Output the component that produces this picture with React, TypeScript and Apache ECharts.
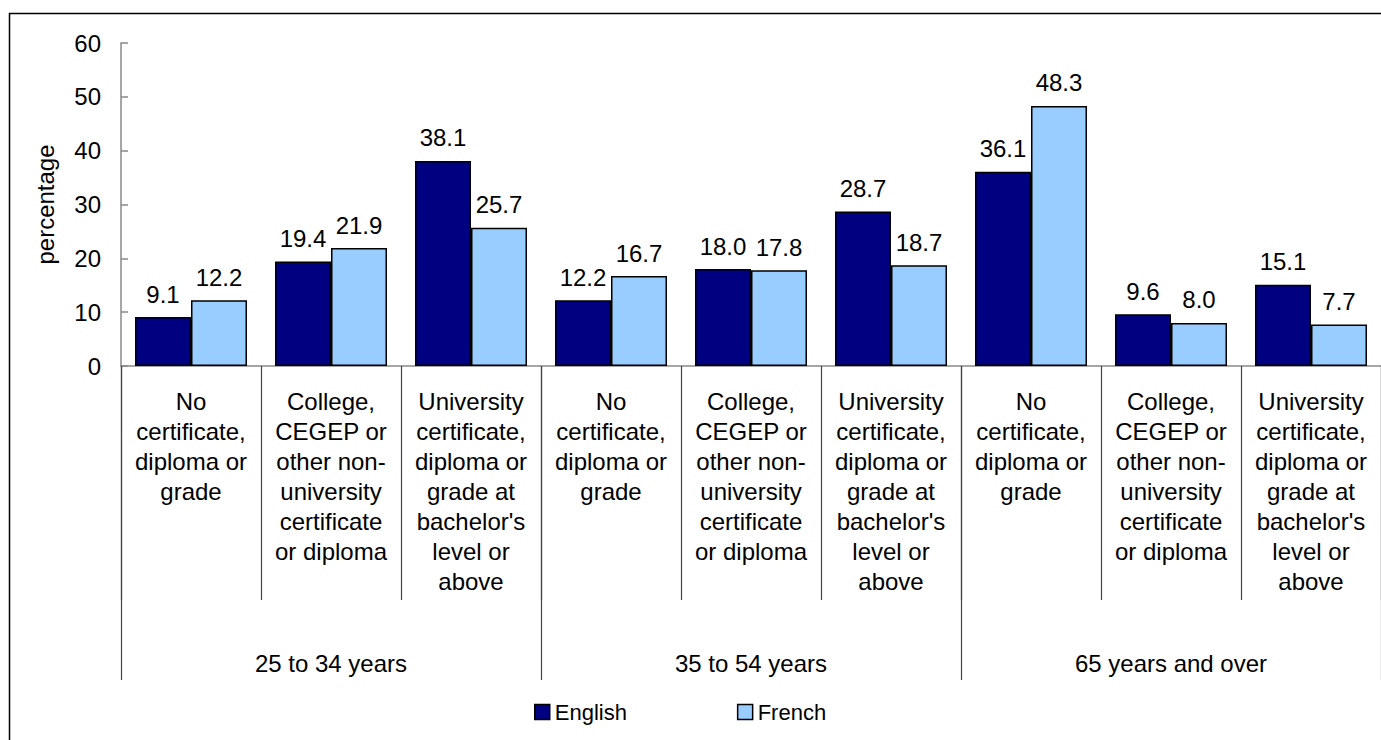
import React, { useEffect, useRef } from "react";
import * as echarts from "echarts";

const categories = [
  "No\ncertificate,\ndiploma or\ngrade",
  "College,\nCEGEP or\nother non-\nuniversity\ncertificate\nor diploma",
  "University\ncertificate,\ndiploma or\ngrade at\nbachelor's\nlevel or\nabove",
  "No\ncertificate,\ndiploma or\ngrade",
  "College,\nCEGEP or\nother non-\nuniversity\ncertificate\nor diploma",
  "University\ncertificate,\ndiploma or\ngrade at\nbachelor's\nlevel or\nabove",
  "No\ncertificate,\ndiploma or\ngrade",
  "College,\nCEGEP or\nother non-\nuniversity\ncertificate\nor diploma",
  "University\ncertificate,\ndiploma or\ngrade at\nbachelor's\nlevel or\nabove",
];
const groups = ["25 to 34 years", "35 to 54 years", "65 years and over"];
const english = [9.1, 19.4, 38.1, 12.2, 18.0, 28.7, 36.1, 9.6, 15.1];
const french = [12.2, 21.9, 25.7, 16.7, 17.8, 18.7, 48.3, 8.0, 7.7];
const yTicks = { min: 0, max: 60, interval: 10 };

const FONT = "'Liberation Sans', Arial, sans-serif";
const FS = 24;

export default function App() {
  const ref = useRef<HTMLDivElement>(null);
  useEffect(() => {
    if (!ref.current) return;
    const chart = echarts.init(ref.current, null, { renderer: "svg" });
    const labelCfg = {
      show: true,
      position: "top",
      distance: 11,
      color: "#000",
      fontSize: FS,
      fontFamily: FONT,
      formatter: (p: any) => Number(p.value).toFixed(1),
    };
    chart.setOption({
      animation: false,
      backgroundColor: "#fff",
      textStyle: { fontFamily: FONT },
      graphic: [
        {
          type: "rect",
          shape: { x: 9.5, y: 13.5, width: 1400, height: 800 },
          style: { fill: "none", stroke: "#000", lineWidth: 1.5 },
          silent: true,
          z: -1,
        },
      ],
      legend: {
        left: 529,
        top: 696,
        itemWidth: 15,
        itemHeight: 15,
        itemGap: 110,
        icon: "rect",
        textStyle: { fontSize: 22, color: "#000", fontFamily: FONT },
        itemStyle: { borderColor: "#000", borderWidth: 1.5 },
        data: ["English", "French"],
      },
      grid: { left: 121, top: 43, width: 1264, height: 323 },
      xAxis: [
        {
          type: "category",
          position: "bottom",
          data: categories,
          axisLine: { show: true, lineStyle: { color: "#888", width: 1.5 } },
          axisTick: { show: true, length: 234, lineStyle: { color: "#444", width: 1.2 } },
          axisLabel: {
            interval: 0,
            margin: 20,
            fontSize: FS,
            lineHeight: 30,
            color: "#000",
            fontFamily: FONT,
            align: "center",
          },
        },
        {
          type: "category",
          position: "bottom",
          data: groups,
          axisLine: { show: false },
          axisTick: { show: true, length: 314, lineStyle: { color: "#444", width: 1.2 } },
          axisLabel: {
            interval: 0,
            margin: 285,
            fontSize: FS,
            color: "#000",
            fontFamily: FONT,
          },
        },
      ],
      yAxis: {
        type: "value",
        min: yTicks.min,
        max: yTicks.max,
        interval: yTicks.interval,
        name: "percentage",
        nameLocation: "middle",
        nameGap: 64,
        nameTextStyle: { fontSize: FS, color: "#000", fontFamily: FONT },
        splitLine: { show: false },
        axisLine: { show: true, lineStyle: { color: "#888", width: 1.5 } },
        axisTick: { show: true, inside: true, length: 7, lineStyle: { color: "#888", width: 1.5 } },
        axisLabel: { fontSize: FS, color: "#000", margin: 20, fontFamily: FONT },
      },
      series: [
        {
          name: "English",
          type: "bar",
          data: english,
          barGap: "0%",
          barCategoryGap: "20%",
          itemStyle: { color: "#000080", borderColor: "#000", borderWidth: 1.5 },
          label: labelCfg,
        },
        {
          name: "French",
          type: "bar",
          data: french,
          barGap: "0%",
          barCategoryGap: "20%",
          itemStyle: { color: "#99CCFF", borderColor: "#000", borderWidth: 1.5 },
          label: labelCfg,
        },
      ],
    });
    return () => chart.dispose();
  }, []);
  return (
    <div
      ref={ref}
      style={{ position: "fixed", left: 0, top: 0, width: 1381, height: 740, background: "#fff" }}
    />
  );
}
